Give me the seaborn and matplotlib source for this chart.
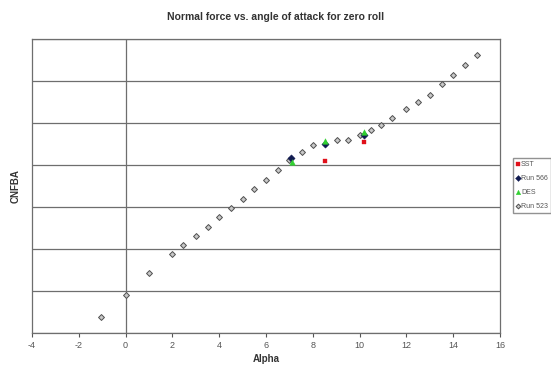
import matplotlib
matplotlib.use("Agg")
import matplotlib.pyplot as plt
import seaborn as sns
import numpy as np
import pandas as pd

# Data
run523_alpha = [-1.05, 0.0, 1.0, 2.0, 2.45, 3.0, 3.5, 4.0, 4.5, 5.0, 5.5, 6.0, 6.5, 7.0,
                7.55, 8.0, 9.05, 9.5, 10.0, 10.5, 10.9, 11.4, 12.0, 12.5, 13.0, 13.5,
                14.0, 14.5, 15.0]
run523_cn = [-0.61, -0.1, 0.43, 0.88, 1.1, 1.3, 1.52, 1.76, 1.98, 2.19, 2.43, 2.64, 2.87, 3.12,
             3.3, 3.48, 3.6, 3.6, 3.71, 3.83, 3.95, 4.12, 4.33, 4.5, 4.67, 4.93,
             5.14, 5.38, 5.62]
sst_alpha = [8.5, 10.17]
sst_cn = [3.1, 3.55]
run566_alpha = [7.05, 8.5, 10.17]
run566_cn = [3.17, 3.5, 3.71]
des_alpha = [7.1, 8.5, 10.17]
des_cn = [3.07, 3.57, 3.79]

x_ticks = [-4, -2, 0, 2, 4, 6, 8, 10, 12, 14, 16]

sns.set_style("white")
plt.rcParams['font.family'] = ['Liberation Sans', 'DejaVu Sans']

fig = plt.figure(figsize=(5.51, 3.67), dpi=100)
ax = fig.add_axes([32/551, 1-333/367, (500-32)/551, (333-39)/367])

for y in range(-1, 7):
    ax.axhline(y, color='#6e6e6e', lw=0.9, zorder=1)
ax.axvline(0, color='#6e6e6e', lw=0.9, zorder=1)

sns.scatterplot(x=run523_alpha, y=run523_cn, ax=ax, marker='D', s=9,
                facecolor='#c8c8c8', edgecolor='#505050', linewidth=0.7,
                label='Run 523', zorder=3)
sns.scatterplot(x=sst_alpha, y=sst_cn, ax=ax, marker='s', s=10,
                color='#e0101a', edgecolor='#e0101a', label='SST', zorder=4)
sns.scatterplot(x=run566_alpha, y=run566_cn, ax=ax, marker='D', s=14,
                color='#101a50', edgecolor='#101a50', label='Run 566', zorder=4)
sns.scatterplot(x=des_alpha, y=des_cn, ax=ax, marker='^', s=16,
                color='#30d030', edgecolor='#30d030', label='DES', zorder=5)

ax.set_xlim(-4, 16)
ax.set_ylim(-1, 6)
ax.set_xticks(x_ticks)
ax.set_xticklabels([str(t) for t in x_ticks], fontsize=6.5, color='#555555')
ax.set_yticks([])
ax.tick_params(axis='x', direction='out', length=3, width=0.8, color='#555555', pad=3,
               bottom=True)
for s in ax.spines.values():
    s.set_color('#6e6e6e')
    s.set_linewidth(0.9)

ax.set_xlabel('Alpha', fontsize=7, fontweight='bold', labelpad=3, color='#333333')
ax.set_ylabel('CNFBA', fontsize=7, fontweight='bold', labelpad=8, color='#333333')
fig.text(0.5, 1-17/367, 'Normal force vs. angle of attack for zero roll', ha='center',
         va='center', fontsize=7.5, fontweight='bold', color='#333333')

h, l = ax.get_legend_handles_labels()
ax.get_legend().remove()
order = ['SST', 'Run 566', 'DES', 'Run 523']
hh = [h[l.index(o)] for o in order]
fig.legend(hh, order, loc='upper left', bbox_to_anchor=(513/551, 1-158/367),
           fontsize=5, frameon=True, fancybox=False, edgecolor='#777777',
           handletextpad=0.1, handlelength=0.6, borderpad=0.45, borderaxespad=0,
           labelspacing=1.0, markerscale=0.8, labelcolor='#555555')

fig.savefig('out.png', dpi=100)
